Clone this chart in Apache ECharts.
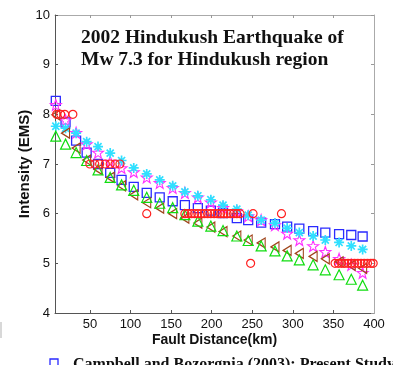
<!DOCTYPE html>
<html>
<head>
<meta charset="utf-8">
<script src="https://cdn.jsdelivr.net/npm/echarts@6/dist/echarts.min.js"></script>
<style>
  html, body { margin: 0; padding: 0; background: #fff; }
  #chart { width: 393px; height: 365px; }
</style>
</head>
<body>
<div id="chart"></div>
<script>
// Distances (km) at which the attenuation models are evaluated
const distKm = [8, 20, 33, 46, 60, 75, 89, 104, 120, 136, 152, 167, 183, 199, 214, 231, 245, 261, 278, 293, 308, 325, 340, 357, 372, 386];

// Predicted intensities (EMS) for each model
const campbell = [8.27, 7.84, 7.47, 7.23, 7.00, 6.82, 6.68, 6.54, 6.42, 6.33, 6.25, 6.17, 6.11, 6.06, 6.01, 5.91, 5.87, 5.82, 5.79, 5.74, 5.70, 5.65, 5.62, 5.59, 5.57, 5.54];
const modelStar = [8.19, 7.88, 7.63, 7.40, 7.23, 7.05, 6.92, 6.84, 6.73, 6.62, 6.52, 6.42, 6.33, 6.23, 6.12, 6.05, 5.95, 5.87, 5.77, 5.60, 5.47, 5.35, 5.23, 5.09, 4.97, 4.81];
const modelAsterisk = [7.76, 7.72, 7.62, 7.45, 7.35, 7.22, 7.07, 6.92, 6.80, 6.68, 6.56, 6.44, 6.36, 6.28, 6.17, 6.09, 5.97, 5.87, 5.81, 5.71, 5.62, 5.55, 5.47, 5.42, 5.35, 5.28];
const modelLeftTri = [7.99, 7.62, 7.32, 7.08, 6.89, 6.73, 6.56, 6.38, 6.22, 6.11, 6.00, 5.91, 5.81, 5.73, 5.64, 5.55, 5.47, 5.41, 5.33, 5.26, 5.20, 5.14, 5.09, 5.03, 4.96, 4.90];
const modelUpTri = [7.56, 7.40, 7.23, 7.07, 6.88, 6.73, 6.58, 6.47, 6.33, 6.21, 6.12, 5.98, 5.85, 5.75, 5.66, 5.55, 5.46, 5.35, 5.25, 5.15, 5.07, 4.97, 4.87, 4.77, 4.68, 4.56];

// Observed intensities
const obsKm = [9, 14, 19, 29,
  50, 56, 62, 69, 75, 81, 87,
  120, 167, 171, 175, 179, 183, 187, 191, 195, 199, 203, 207, 211, 215, 219, 223, 227, 231, 235, 251, 286,
  248, 352, 356, 360, 364, 368, 372, 376, 380, 384, 388, 392, 396, 399];
const obsInt = [8, 8, 8, 8,
  7, 7, 7, 7, 7, 7, 7,
  6, 6, 6, 6, 6, 6, 6, 6, 6, 6, 6, 6, 6, 6, 6, 6, 6, 6, 6, 6, 6,
  5, 5, 5, 5, 5, 5, 5, 5, 5, 5, 5, 5, 5, 5];

// Axis ticks
const xTicks = [50, 100, 150, 200, 250, 300, 350, 400];
const xInnerTicks = [50, 100, 150, 200, 250, 300, 350];
const yRange = [4, 10];

const titleLines = ['2002 Hindukush Earthquake of', 'Mw 7.3 for Hindukush region'];
const legendText = 'Campbell and Bozorgnia (2003): Present Study';

const pairs = (xs, ys) => xs.map((x, i) => [x, ys[i]]);

const starPath = 'path://M0,-10L2.35,-3.24L9.51,-3.09L3.8,1.24L5.88,8.09L0,4L-5.88,8.09L-3.8,1.24L-9.51,-3.09L-2.35,-3.24Z';
const asteriskPath = 'path://M0,-10L0,10M-10,0L10,0M-7.07,-7.07L7.07,7.07M-7.07,7.07L7.07,-7.07';
const leftTriPath = 'path://M0,5L10,0L10,10Z';

function hollow(name, data, symbol, size, color, width) {
  return {
    name: name,
    type: 'scatter',
    data: data,
    symbol: symbol,
    symbolSize: size,
    itemStyle: { color: 'rgba(0,0,0,0)', borderColor: color, borderWidth: width || 1.2, opacity: 1 },
    emphasis: { disabled: true },
    silent: true
  };
}

const chart = echarts.init(document.getElementById('chart'), null, { renderer: 'canvas' });

const axisFont = { fontFamily: 'Liberation Sans, Arial, sans-serif', fontSize: 13, color: '#111' };

chart.setOption({
  animation: false,
  backgroundColor: '#ffffff',
  grid: { left: 55, right: 19, top: 15, bottom: 52 },
  xAxis: [
    {
      type: 'value', min: 7, max: 400, position: 'bottom',
      name: 'Fault Distance(km)', nameLocation: 'middle', nameGap: 20, nameMoveOverlap: false,
      nameTextStyle: { fontFamily: 'Liberation Sans, Arial, sans-serif', fontSize: 14, fontWeight: 'bold', color: '#111' },
      axisLine: { show: true, lineStyle: { color: '#555', width: 1 } },
      axisTick: { show: true, inside: true, length: 3, customValues: xInnerTicks, lineStyle: { color: '#555' } },
      axisLabel: Object.assign({ customValues: xTicks, margin: 5 }, axisFont),
      splitLine: { show: false }
    },
    {
      type: 'value', min: 7, max: 400, position: 'top',
      axisLine: { show: true, lineStyle: { color: '#aaa', width: 1 } },
      axisTick: { show: true, inside: true, length: 3, customValues: xInnerTicks, lineStyle: { color: '#999' } },
      axisLabel: { show: false },
      splitLine: { show: false }
    }
  ],
  yAxis: [
    {
      type: 'value', min: yRange[0], max: yRange[1], interval: 1, position: 'left',
      name: 'Intensity (EMS)', nameLocation: 'middle', nameGap: 23, nameMoveOverlap: false,
      nameTextStyle: { fontFamily: 'Liberation Sans, Arial, sans-serif', fontSize: 15, fontWeight: 'bold', color: '#111' },
      axisLine: { show: true, lineStyle: { color: '#555', width: 1 } },
      axisTick: { show: true, inside: true, length: 3, lineStyle: { color: '#555' } },
      axisLabel: Object.assign({ margin: 5 }, axisFont),
      splitLine: { show: false }
    },
    {
      type: 'value', min: yRange[0], max: yRange[1], interval: 1, position: 'right',
      axisLine: { show: true, lineStyle: { color: '#aaa', width: 1 } },
      axisTick: { show: true, inside: true, length: 3, lineStyle: { color: '#999' } },
      axisLabel: { show: false },
      splitLine: { show: false }
    }
  ],
  series: [
    hollow('Campbell and Bozorgnia (2003)', pairs(distKm, campbell), 'rect', 9, '#2a2aff', 1.3),
    hollow('Model 2', pairs(distKm, modelStar), starPath, 11, '#ff30ff', 1.1),
    hollow('Model 3', pairs(distKm, modelAsterisk), asteriskPath, 10, '#30e0ff', 1.7),
    hollow('Model 4', pairs(distKm, modelLeftTri), leftTriPath, [8, 10], '#a0441c', 1.2),
    hollow('Model 5', pairs(distKm, modelUpTri), 'triangle', 10, '#10dd10', 1.2),
    hollow('Observed', pairs(obsKm, obsInt), 'circle', 8, '#ff2020', 1.2)
  ],
  graphic: [
    {
      type: 'text', left: 81, top: 28, silent: true,
      style: { text: titleLines[0], font: 'bold 19.5px "Liberation Serif", "Times New Roman", serif', fill: '#111' }
    },
    {
      type: 'text', left: 81, top: 50, silent: true,
      style: { text: titleLines[1], font: 'bold 19.5px "Liberation Serif", "Times New Roman", serif', fill: '#111' }
    },
    {
      type: 'rect', silent: true,
      shape: { x: 50, y: 359, width: 8, height: 8 },
      style: { fill: 'none', stroke: '#2a2aff', lineWidth: 1.3 }
    },
    {
      type: 'text', silent: true, x: 73, y: 357,
      style: { text: legendText, font: 'bold 16px "Liberation Serif", "Times New Roman", serif', fill: '#111', verticalAlign: 'top' }
    },
    {
      type: 'rect', silent: true,
      shape: { x: 0, y: 322, width: 2, height: 16 },
      style: { fill: '#d8d8d8' }
    }
  ]
});
</script>
</body>
</html>
